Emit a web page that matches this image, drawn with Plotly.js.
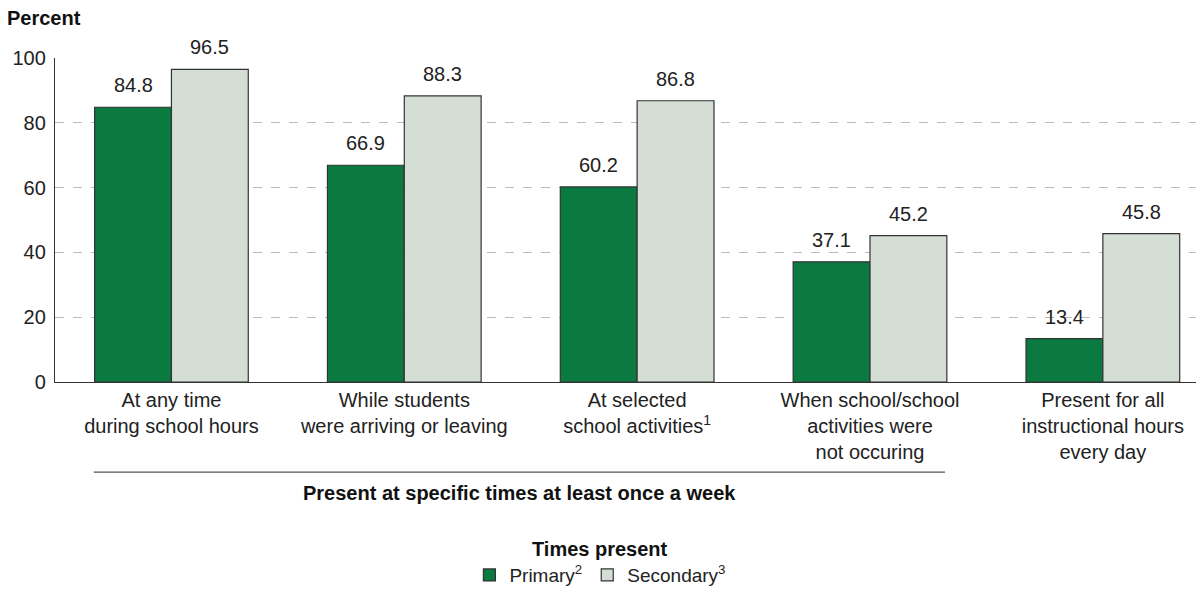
<!DOCTYPE html>
<html><head><meta charset="utf-8">
<script src="https://cdn.plot.ly/plotly-3.0.1.min.js"></script>
<style>body{margin:0}#c{width:1204px;height:599px}</style>
</head><body><div id="c"></div>
<script>
const categories = ["At any time<br>during school hours","While students<br>were arriving or leaving","At selected<br>school activities<sup>1</sup>","When school/school<br>activities were<br>not occuring","Present for all<br>instructional hours<br>every day"];
const primary = [84.8, 66.9, 60.2, 37.1, 13.4];
const secondary = [96.5, 88.3, 86.8, 45.2, 45.8];
const yTicks = [0, 20, 40, 60, 80, 100];
const idx = categories.map((_, i) => i);
const font = "Liberation Sans, Arial, sans-serif";
const bargap = 0.34;
const half = (1 - bargap) / 4;
const traces = [
  {type:"bar", name:"Primary<sup>2</sup>", x: idx, y: primary,
   marker:{color:"#0b7a41", line:{color:"#333", width:1.2}}},
  {type:"bar", name:"Secondary<sup>3</sup>", x: idx, y: secondary,
   marker:{color:"#d4ded4", line:{color:"#333", width:1.2}}}
];
const labelAnn = [];
primary.forEach((v, i) => labelAnn.push({x: i - half, y: v, text: v.toFixed(1), xref:"x", yref:"y", showarrow:false, yanchor:"bottom", yshift:9, font:{size:20,color:"#222"}}));
secondary.forEach((v, i) => labelAnn.push({x: i + half, y: v, text: v.toFixed(1), xref:"x", yref:"y", showarrow:false, yanchor:"bottom", yshift:9, font:{size:20,color:"#222"}}));
const layout = {
  width:1204, height:599,
  margin:{l:55, r:8, t:58, b:217, autoexpand:false},
  font:{family:font, size:20, color:"#222"},
  barmode:"group", bargap: bargap, bargroupgap:0,
  plot_bgcolor:"#fff", paper_bgcolor:"#fff",
  xaxis:{range:[-0.5,4.4], tickvals: idx, ticktext: categories, showline:true, linecolor:"#333", linewidth:1.2,
         ticks:"", showgrid:false, zeroline:false, fixedrange:true, automargin:false, tickfont:{size:20,color:"#222"}},
  yaxis:{range:[0,100], tickvals:yTicks, showline:true, linecolor:"#333", linewidth:1.2, ticks:"", automargin:false,
         showgrid:true, gridcolor:"#bbb", griddash:"dash", gridwidth:1, zeroline:false,
         tickfont:{size:20,color:"#222"}, ticklabelstandoff:4},
  showlegend:true,
  legend:{orientation:"h", x:0.478, xanchor:"center", yref:"container", y:0.04, yanchor:"middle", font:{size:19,color:"#222"},
          traceorder:"normal"},
  shapes:[{type:"line", xref:"paper", yref:"paper", x0:0.034, x1:0.78, y0:-0.278, y1:-0.278, line:{color:"#555", width:1.2}}],
  annotations: labelAnn.concat([
    {text:"<b>Percent</b>", xref:"paper", yref:"paper", x:-0.044, y:1.123, xanchor:"left", yanchor:"middle", showarrow:false, font:{size:20,color:"#111"}},
    {text:"<b>Present at specific times at least once a week</b>", xref:"paper", yref:"paper", x:0.407, y:-0.343, xanchor:"center", yanchor:"middle", showarrow:false, font:{size:20,color:"#111"}},
    {text:"<b>Times present</b>", xref:"paper", yref:"paper", x:0.478, y:-0.515, xanchor:"center", yanchor:"middle", showarrow:false, font:{size:20,color:"#111"}}
  ])
};
Plotly.newPlot("c", traces, layout, {displayModeBar:false, staticPlot:true});
</script></body></html>
